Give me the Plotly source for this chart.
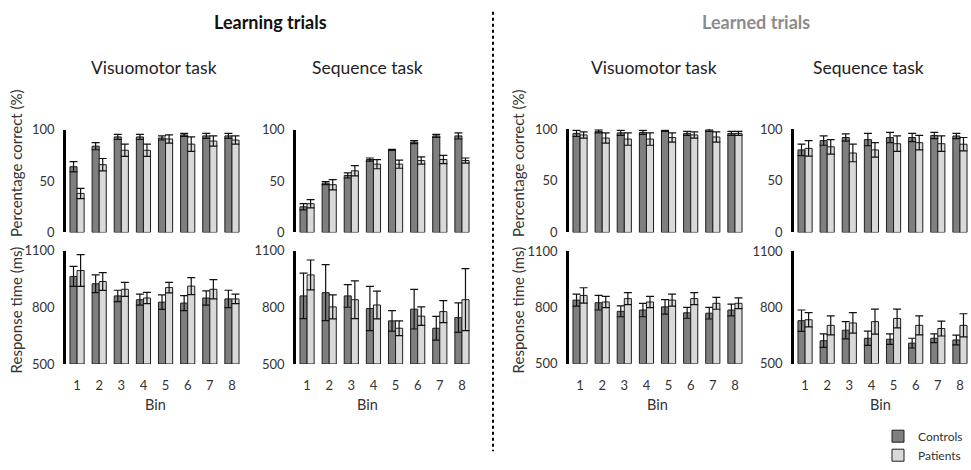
import plotly.graph_objects as go

# Bin labels shared by every panel
bins = [1, 2, 3, 4, 5, 6, 7, 8]

# ---- Learning trials: visuomotor task ----
learn_vm_acc_ctrl = [64, 84, 93, 93, 92, 95, 94, 94]
learn_vm_acc_ctrl_err = [5, 3.5, 2.5, 2.5, 2, 1.5, 2.5, 2.5]
learn_vm_acc_pat = [38, 66, 80, 80, 91, 86, 89, 90]
learn_vm_acc_pat_err = [5, 6, 6, 6, 4, 7, 5, 4]

learn_vm_rt_ctrl = [963, 924, 860, 840, 827, 822, 849, 844]
learn_vm_rt_ctrl_err = [53, 47, 30, 29, 38, 40, 38, 46]
learn_vm_rt_pat = [994, 936, 895, 849, 904, 912, 895, 844]
learn_vm_rt_pat_err = [84, 47, 37, 30, 28, 45, 51, 25]

# ---- Learning trials: sequence task ----
learn_sq_acc_ctrl = [25, 48, 55.5, 71, 80.5, 88, 94, 94]
learn_sq_acc_ctrl_err = [3, 1.5, 2.5, 1.5, 0.5, 1.5, 1.5, 3]
learn_sq_acc_pat = [28, 46.5, 60, 66.5, 66.5, 70, 71, 70]
learn_sq_acc_pat_err = [4, 5, 5, 4.5, 4, 3.5, 4, 2.5]

learn_sq_rt_ctrl = [860, 877, 860, 793, 728, 790, 689, 745]
learn_sq_rt_ctrl_err = [120, 148, 60, 117, 54, 105, 63, 78]
learn_sq_rt_pat = [971, 802, 840, 812, 689, 753, 777, 840]
learn_sq_rt_pat_err = [79, 63, 100, 73, 39, 49, 58, 164]

# ---- Learned trials: visuomotor task ----
lrnd_vm_acc_ctrl = [96, 98, 96.5, 97, 98.5, 96, 99.5, 96]
lrnd_vm_acc_ctrl_err = [3, 1.5, 2.5, 2, 0.5, 2, 1.5, 2]
lrnd_vm_acc_pat = [94.5, 91.5, 90.5, 90.5, 92, 94.5, 92.5, 96]
lrnd_vm_acc_pat_err = [3, 5, 6, 6, 4.5, 3, 5, 2]

lrnd_vm_rt_ctrl = [840, 826, 780, 787, 804, 772, 770, 787]
lrnd_vm_rt_ctrl_err = [32, 39, 29, 36, 39, 29, 31, 31]
lrnd_vm_rt_pat = [865, 830, 848, 830, 840, 848, 823, 823]
lrnd_vm_rt_pat_err = [41, 30, 32, 30, 32, 32, 32, 29]

# ---- Learned trials: sequence task ----
lrnd_sq_acc_ctrl = [80, 89, 92, 90, 92, 92, 94, 93.5]
lrnd_sq_acc_ctrl_err = [5.5, 4.5, 3.5, 6, 5, 4, 3, 2.5]
lrnd_sq_acc_pat = [81.5, 83, 77, 80, 86, 87, 86, 85.5]
lrnd_sq_acc_pat_err = [7.5, 7, 8.5, 7, 7.5, 7, 7.5, 6.5]

lrnd_sq_rt_ctrl = [730, 623, 679, 636, 631, 610, 636, 627]
lrnd_sq_rt_ctrl_err = [57, 36, 46, 38, 28, 26, 23, 26]
lrnd_sq_rt_pat = [735, 705, 718, 725, 742, 705, 688, 705]
lrnd_sq_rt_pat_err = [38, 51, 55, 67, 50, 51, 40, 62]

acc_ticks = [0, 50, 100]
rt_ticks = [500, 800, 1100]

W, H = 971, 470
CTRL_FILL = "#7f7f7f"
PAT_FILL = "#d9d9d9"
OUTLINE = "#1e1e1e"
TXT = "#333333"
FONT = "Lato"


def px_x(a, b):
    return [a / W, b / W]


def px_y(top, bottom):
    return [1 - bottom / H, 1 - top / H]


# (suffix, x-domain px, y-domain px, y-range, ticks, show bin labels, ctrl, ctrl_err, pat, pat_err)
panels = [
    ("", (66, 243), (128, 236), [0, 100], acc_ticks, False,
     learn_vm_acc_ctrl, learn_vm_acc_ctrl_err, learn_vm_acc_pat, learn_vm_acc_pat_err),
    ("2", (296, 473), (128, 236), [0, 100], acc_ticks, False,
     learn_sq_acc_ctrl, learn_sq_acc_ctrl_err, learn_sq_acc_pat, learn_sq_acc_pat_err),
    ("3", (66, 243), (255, 374.3), [500, 1100], rt_ticks, True,
     learn_vm_rt_ctrl, learn_vm_rt_ctrl_err, learn_vm_rt_pat, learn_vm_rt_pat_err),
    ("4", (296, 473), (255, 374.3), [500, 1100], rt_ticks, True,
     learn_sq_rt_ctrl, learn_sq_rt_ctrl_err, learn_sq_rt_pat, learn_sq_rt_pat_err),
    ("5", (569, 746), (127.5, 236), [0, 100], acc_ticks, False,
     lrnd_vm_acc_ctrl, lrnd_vm_acc_ctrl_err, lrnd_vm_acc_pat, lrnd_vm_acc_pat_err),
    ("6", (794, 971), (127.5, 236), [0, 100], acc_ticks, False,
     lrnd_sq_acc_ctrl, lrnd_sq_acc_ctrl_err, lrnd_sq_acc_pat, lrnd_sq_acc_pat_err),
    ("7", (569, 746), (256, 374), [500, 1100], rt_ticks, True,
     lrnd_vm_rt_ctrl, lrnd_vm_rt_ctrl_err, lrnd_vm_rt_pat, lrnd_vm_rt_pat_err),
    ("8", (794, 971), (256, 374), [500, 1100], rt_ticks, True,
     lrnd_sq_rt_ctrl, lrnd_sq_rt_ctrl_err, lrnd_sq_rt_pat, lrnd_sq_rt_pat_err),
]

fig = go.Figure()
layout_axes = {}

for i, (sfx, xd, yd, yr, yt, show_bins, c, ce, p, pe) in enumerate(panels):
    xa, ya = "x" + sfx, "y" + sfx
    base = yr[0]
    for name, vals, errs, fill in (("Controls", c, ce, CTRL_FILL),
                                   ("Patients", p, pe, PAT_FILL)):
        fig.add_trace(go.Bar(
            x=bins, y=[v - base for v in vals], base=base,
            name=name, legendgroup=name, showlegend=(i == 0),
            marker=dict(color=fill, line=dict(color=OUTLINE, width=1)),
            error_y=dict(type="data", array=errs, color="#111111",
                         thickness=1.2, width=4),
            xaxis=xa, yaxis=ya,
        ))
    layout_axes["xaxis" + sfx] = dict(
        domain=px_x(*xd), anchor=ya, range=[0.5, 8.5],
        tickvals=bins, ticktext=[str(b) for b in bins],
        showticklabels=show_bins, ticks="", showline=False,
        showgrid=False, zeroline=False, ticklabelstandoff=12,
        tickfont=dict(family=FONT, size=13, color=TXT),
    )
    layout_axes["yaxis" + sfx] = dict(
        domain=px_y(*yd), anchor=xa, range=yr, tickvals=yt,
        showline=True, linecolor="black", linewidth=2.5,
        showgrid=False, zeroline=False, ticks="", ticklabelstandoff=6,
        tickfont=dict(family=FONT, size=13, color=TXT),
    )

annotations = []


def text(x, y, s, size, color=TXT, bold=False, angle=0):
    annotations.append(dict(
        x=x / W, y=1 - y / H, xref="paper", yref="paper", text=s,
        showarrow=False, textangle=angle, xanchor="center", yanchor="middle",
        font=dict(family=FONT, size=size, color=color,
                  weight="bold" if bold else "normal"),
    ))


text(270, 15, "Learning trials", 18, color="#111111", bold=True)
text(756, 15, "Learned trials", 18, color="#8c8c8c", bold=True)
for cx, s in ((154, "Visuomotor task"), (367, "Sequence task"),
              (654, "Visuomotor task"), (868, "Sequence task")):
    text(cx, 63, s, 17.5, color="#222222")
for cx in (16, 518):
    text(cx, 163, "Percentage correct (%)", 15, angle=-90)
    text(cx, 318, "Response time (ms)", 15, angle=-90)
for cx in (155, 367, 657, 880):
    text(cx, 417, "Bin", 14.5)

# dotted divider between the two trial types
shapes = [dict(type="line", xref="paper", yref="paper",
               x0=493 / W, x1=493 / W, y0=1 - 4 / H, y1=1 - 466 / H,
               line=dict(color="black", width=2, dash="dot"))]

fig.update_layout(
    width=W, height=H, margin=dict(l=0, r=0, t=0, b=0),
    paper_bgcolor="white", plot_bgcolor="white",
    barmode="group", bargap=0.36, bargroupgap=0,
    annotations=annotations, shapes=shapes,
    legend=dict(x=878 / W, y=1 - 435 / H, xanchor="left", yanchor="top",
                bgcolor="rgba(0,0,0,0)", tracegroupgap=0,
                font=dict(family=FONT, size=12, color=TXT)),
    **layout_axes,
)

fig.write_html("out.html")
